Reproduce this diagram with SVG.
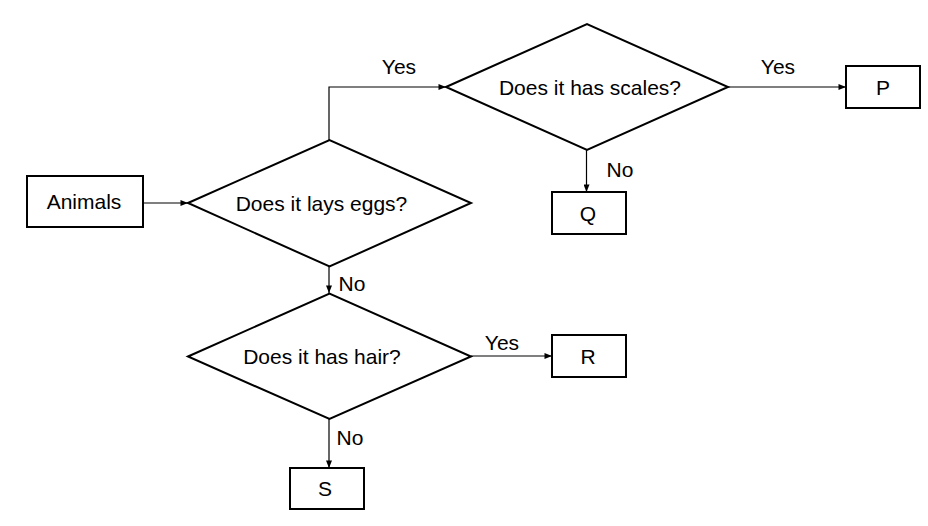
<svg xmlns="http://www.w3.org/2000/svg" width="928" height="526" viewBox="0 0 928 526">
<style>
.shape{fill:#fff;stroke:#000;stroke-width:2}
.conn{fill:none;stroke:#000;stroke-width:1.2}
text{font-family:"Liberation Sans",Arial,sans-serif;font-size:21px;fill:#000}
.c{text-anchor:middle;dominant-baseline:central}
</style>
<defs>
<marker id="arr" viewBox="0 0 10 8" refX="10" refY="4" markerWidth="8" markerHeight="6" markerUnits="userSpaceOnUse" orient="auto">
<path d="M0,0 L10,4 L0,8 Z" fill="#000"/>
</marker>
</defs>
<rect width="928" height="526" fill="#fff"/>
<g id="connectors">
<line class="conn" x1="143" y1="203" x2="188" y2="203" marker-end="url(#arr)"/>
<polyline class="conn" points="329,140 329,87 446,87" marker-end="url(#arr)"/>
<line class="conn" x1="728" y1="87" x2="846" y2="87" marker-end="url(#arr)"/>
<line class="conn" x1="586.5" y1="150" x2="586.5" y2="192" marker-end="url(#arr)"/>
<line class="conn" x1="329" y1="266" x2="329" y2="293" marker-end="url(#arr)"/>
<line class="conn" x1="471" y1="356" x2="552" y2="356" marker-end="url(#arr)"/>
<line class="conn" x1="329" y1="419" x2="329" y2="468" marker-end="url(#arr)"/>
<text x="399" y="66" class="c">Yes</text>
<text x="778" y="66" class="c">Yes</text>
<text x="620" y="169" class="c">No</text>
<text x="352" y="283" class="c">No</text>
<text x="502" y="342" class="c">Yes</text>
<text x="350" y="437" class="c">No</text>
</g>
<g id="animals">
<rect class="shape" x="27" y="176" width="116" height="51"/>
<text x="84" y="201.5" class="c">Animals</text>
</g>
<g id="eggs">
<polygon class="shape" points="188,203 329.5,140 471,203 329.5,266.5"/>
<text x="321.5" y="203" class="c">Does it lays eggs?</text>
</g>
<g id="scales">
<polygon class="shape" points="446,87 587,24 728,87 587,150"/>
<text x="590" y="87" class="c">Does it has scales?</text>
</g>
<g id="hair">
<polygon class="shape" points="188,356.5 329.5,293.5 471,356.5 329.5,419"/>
<text x="322" y="356.5" class="c">Does it has hair?</text>
</g>
<g id="P">
<rect class="shape" x="846" y="66" width="74" height="42"/>
<text x="883" y="87" class="c">P</text>
</g>
<g id="Q">
<rect class="shape" x="552" y="192" width="74" height="42"/>
<text x="588" y="213" class="c">Q</text>
</g>
<g id="R">
<rect class="shape" x="552" y="335" width="74" height="42"/>
<text x="588" y="356" class="c">R</text>
</g>
<g id="S">
<rect class="shape" x="290" y="468" width="74" height="41"/>
<text x="325" y="488.5" class="c">S</text>
</g>
</svg>
